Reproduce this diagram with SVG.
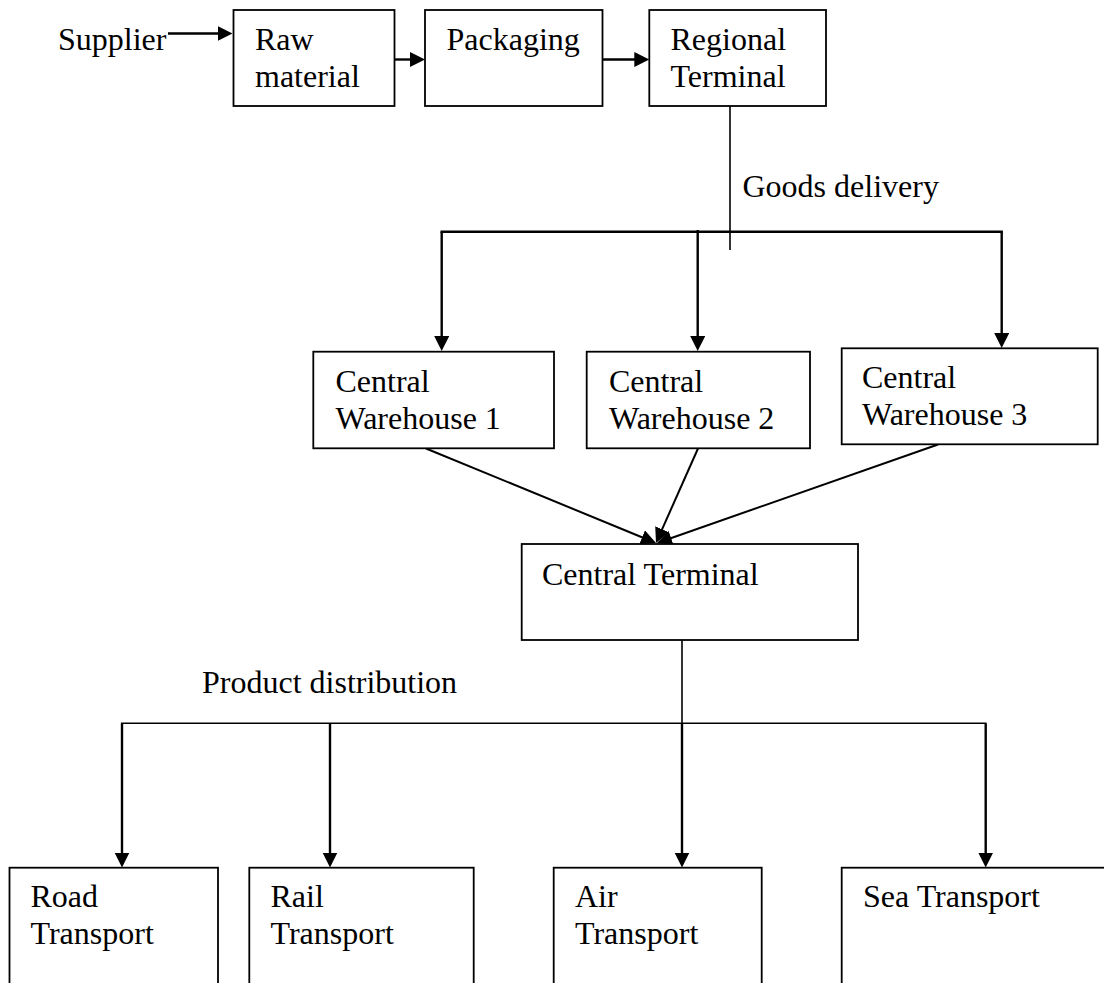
<svg xmlns="http://www.w3.org/2000/svg" width="1104" height="983" viewBox="0 0 1104 983">
<style>
  .box { fill: #ffffff; stroke: #000000; stroke-width: 1.8; }
  .lbl { font-family: "Liberation Serif", "Times New Roman", serif; font-size: 32px; fill: #000000; }
  .arr { stroke: #000000; stroke-width: 2.4; fill: none; marker-end: url(#ah); }
  .thick { stroke: #000000; stroke-width: 2.4; fill: none; stroke-linecap: square; }
  .thin { stroke: #000000; stroke-width: 1.6; fill: none; }
  .diag { stroke: #000000; stroke-width: 2; fill: none; marker-end: url(#ah); }
</style>
<defs>
  <marker id="ah" markerWidth="16" markerHeight="16" refX="5" refY="7.5" orient="auto" markerUnits="userSpaceOnUse">
    <path d="M0,0 L15,7.5 L0,15 Z" fill="#000000"/>
  </marker>
</defs>
<rect width="1104" height="983" fill="#ffffff"/>

<g id="connectors">
  <line class="arr" x1="168" y1="33.5" x2="222.5" y2="33.5"/>
  <line class="arr" x1="394.5" y1="59.5" x2="415" y2="59.5"/>
  <line class="arr" x1="602.5" y1="59.5" x2="639.3" y2="59.5"/>
  <line class="thin" x1="730" y1="106" x2="730" y2="250"/>
  <line class="thick" x1="441.7" y1="231.7" x2="1001.7" y2="231.7"/>
  <line class="arr" x1="441.7" y1="231.7" x2="441.7" y2="341"/>
  <line class="arr" x1="697.7" y1="230" x2="697.7" y2="341"/>
  <line class="arr" x1="1001.7" y1="231.7" x2="1001.7" y2="338"/>
  <line class="diag" x1="426" y1="448.5" x2="646.75" y2="539.2"/>
  <line class="diag" x1="698" y1="448.5" x2="660.06" y2="533.86"/>
  <line class="diag" x1="938" y1="444.5" x2="666.4" y2="539.7"/>
  <line class="thin" x1="682" y1="640" x2="682" y2="723.3"/>
  <line class="thin" x1="121" y1="723.3" x2="986.5" y2="723.3"/>
  <line class="arr" x1="122" y1="723.3" x2="122" y2="857.5"/>
  <line class="arr" x1="330" y1="723.3" x2="330" y2="857.5"/>
  <line class="arr" x1="682" y1="723.3" x2="682" y2="857.5"/>
  <line class="arr" x1="985.7" y1="723.3" x2="985.7" y2="857.5"/>
</g>

<g id="supplier">
  <text class="lbl" x="58" y="50">Supplier</text>
</g>
<g id="raw-material">
  <rect class="box" x="233.5" y="10" width="161" height="96"/>
  <text class="lbl" x="255" y="50">Raw</text>
  <text class="lbl" x="255" y="87">material</text>
</g>
<g id="packaging">
  <rect class="box" x="425" y="10" width="177.5" height="96"/>
  <text class="lbl" x="446.5" y="50">Packaging</text>
</g>
<g id="regional-terminal">
  <rect class="box" x="649.3" y="10" width="176.7" height="96"/>
  <text class="lbl" x="670.5" y="50">Regional</text>
  <text class="lbl" x="670.5" y="87">Terminal</text>
</g>
<g id="goods-delivery">
  <text class="lbl" x="742.5" y="197">Goods delivery</text>
</g>
<g id="central-warehouse-1">
  <rect class="box" x="313.3" y="351.7" width="240.7" height="96.6"/>
  <text class="lbl" x="335.5" y="391.5">Central</text>
  <text class="lbl" x="335.5" y="429">Warehouse 1</text>
</g>
<g id="central-warehouse-2">
  <rect class="box" x="586.7" y="351.7" width="223.3" height="96.6"/>
  <text class="lbl" x="609" y="391.5">Central</text>
  <text class="lbl" x="609" y="429">Warehouse 2</text>
</g>
<g id="central-warehouse-3">
  <rect class="box" x="841.7" y="348.3" width="256" height="96"/>
  <text class="lbl" x="862" y="387.5">Central</text>
  <text class="lbl" x="862" y="425">Warehouse 3</text>
</g>
<g id="central-terminal">
  <rect class="box" x="521.7" y="544" width="336.3" height="96"/>
  <text class="lbl" x="542" y="585">Central Terminal</text>
</g>
<g id="product-distribution">
  <text class="lbl" x="202" y="693">Product distribution</text>
</g>
<g id="road-transport">
  <rect class="box" x="9.5" y="867.7" width="208.5" height="130"/>
  <text class="lbl" x="30.5" y="906.5">Road</text>
  <text class="lbl" x="30.5" y="944">Transport</text>
</g>
<g id="rail-transport">
  <rect class="box" x="249.3" y="867.7" width="224.4" height="130"/>
  <text class="lbl" x="270.5" y="906.5">Rail</text>
  <text class="lbl" x="270.5" y="944">Transport</text>
</g>
<g id="air-transport">
  <rect class="box" x="553.7" y="867.7" width="208" height="130"/>
  <text class="lbl" x="575" y="906.5">Air</text>
  <text class="lbl" x="575" y="944">Transport</text>
</g>
<g id="sea-transport">
  <rect class="box" x="841.7" y="867.7" width="280" height="130"/>
  <text class="lbl" x="863" y="906.5">Sea Transport</text>
</g>
</svg>
